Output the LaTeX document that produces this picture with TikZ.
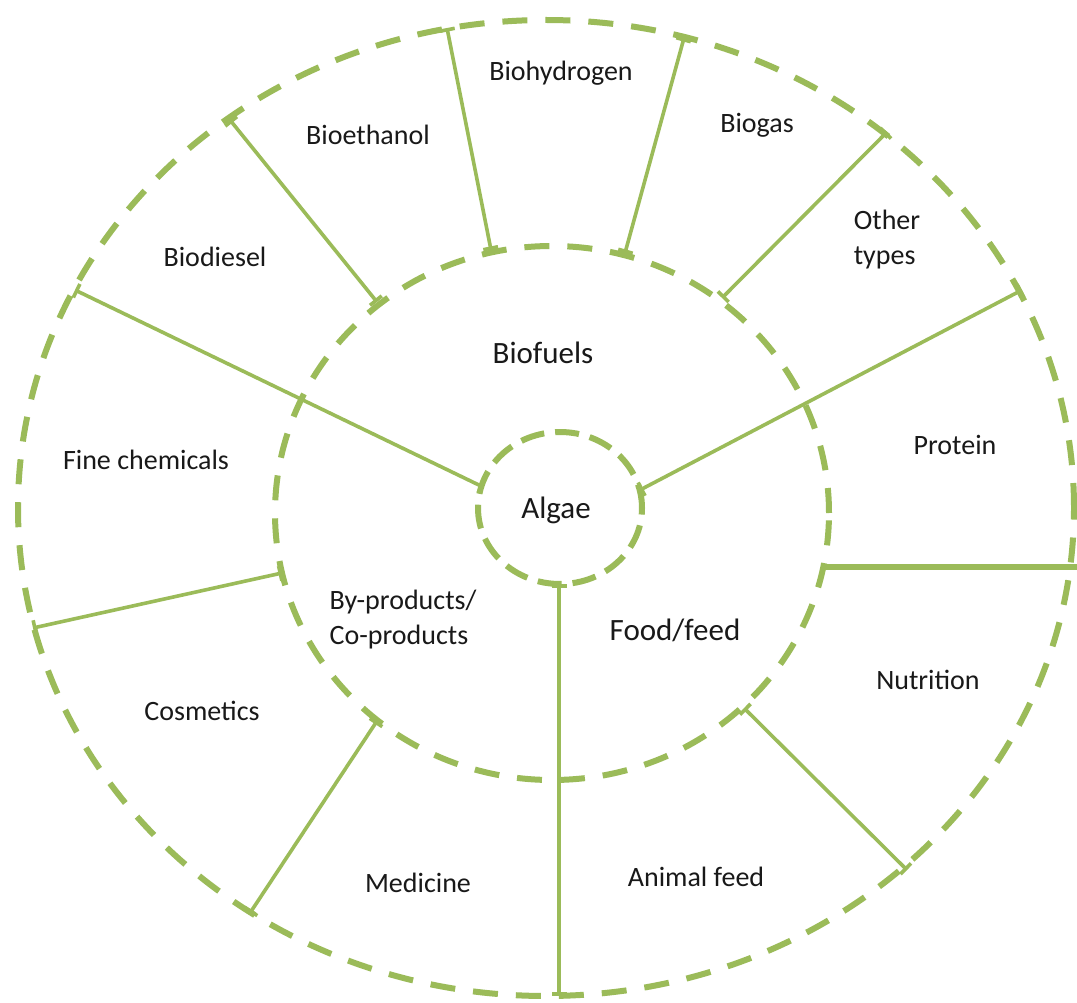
\documentclass[tikz,border=0pt]{standalone}
\usepackage{fontspec}
\setmainfont{Carlito}
\usetikzlibrary{arrows.meta}
\definecolor{algreen}{HTML}{9BBB59}
\tikzset{
  ring/.style={draw=algreen, line width=6pt, dash pattern=on 25pt off 18pt},
  innerring/.style={draw=algreen, line width=6pt, dash pattern=on 24pt off 11pt},
  divider/.style={draw=algreen, line width=3.6pt, {Bar[width=15pt]}-{Bar[width=15pt]}},
  thickdivider/.style={draw=algreen, line width=6.5pt},
  lbl/.style={font=\fontsize{28}{35}\selectfont, text=black!90, align=left, inner sep=0pt},
  biglbl/.style={font=\fontsize{31}{37}\selectfont, text=black!90, align=center, inner sep=0pt}
}
\begin{document}
\begin{tikzpicture}[x=1pt,y=-1pt]
\useasboundingbox (0,0) rectangle (1077,1003);
\fill[white] (0,0) rectangle (1077,1003);
% rings
\draw[ring] (546,508) ellipse [x radius=528pt, y radius=488pt];
\draw[ring] (552,513) ellipse [x radius=277pt, y radius=267pt];
\draw[innerring] (560,508) ellipse [x radius=82pt, y radius=76pt];
% end points
\coordinate (a1) at (75,290);   \coordinate (b1) at (483,487);
\coordinate (a2) at (230,120);  \coordinate (b2) at (377,302);
\coordinate (a3) at (447,28);   \coordinate (b3) at (491,250);
\coordinate (a4) at (684,38);   \coordinate (b4) at (625,253);
\coordinate (a5) at (887,132);  \coordinate (b5) at (722,298);
\coordinate (a6) at (1022,290); \coordinate (b6) at (640,490);
\coordinate (a7) at (1077,567); \coordinate (b7) at (824,567);
\coordinate (a8) at (907,870);  \coordinate (b8) at (744,708);
\coordinate (a9) at (559,996);  \coordinate (b9) at (559,584);
\coordinate (a10) at (250,913); \coordinate (b10) at (377,721);
\coordinate (a11) at (33,628);  \coordinate (b11) at (282,573);
% dividers
\draw[divider] (a1) -- (b1);
\draw[divider] (a2) -- (b2);
\draw[divider] (a3) -- (b3);
\draw[divider] (a4) -- (b4);
\draw[divider] (a5) -- (b5);
\draw[divider] (a6) -- (b6);
\draw[thickdivider] (b7) -- (a7);
\draw[divider] (a8) -- (b8);
\draw[divider] (a9) -- (b9);
\draw[divider] (a10) -- (b10);
\draw[divider] (a11) -- (b11);
% labels
\node[biglbl] (algae) at (556,510) {Algae};
\node[biglbl] (biofuels) at (543,353) {Biofuels};
\node[biglbl] (food) at (675,630) {Food/feed};
\node[lbl] (byprod) at (403,620) {By-products/\\Co-products};
\node[lbl] (biohyd) at (561,73) {Biohydrogen};
\node[lbl] (bioeth) at (368,135) {Bioethanol};
\node[lbl] (biogas) at (757,125) {Biogas};
\node[lbl] (biodies) at (215,257) {Biodiesel};
\node[lbl] (other) at (887,240) {Other\\types};
\node[lbl] (protein) at (955,445) {Protein};
\node[lbl] (finechem) at (146,460) {Fine chemicals};
\node[lbl] (nutrition) at (928,680) {Nutrition};
\node[lbl] (cosmetics) at (202,711) {Cosmetics};
\node[lbl] (medicine) at (418,883) {Medicine};
\node[lbl] (animal) at (696,877) {Animal feed};
\end{tikzpicture}
\end{document}
